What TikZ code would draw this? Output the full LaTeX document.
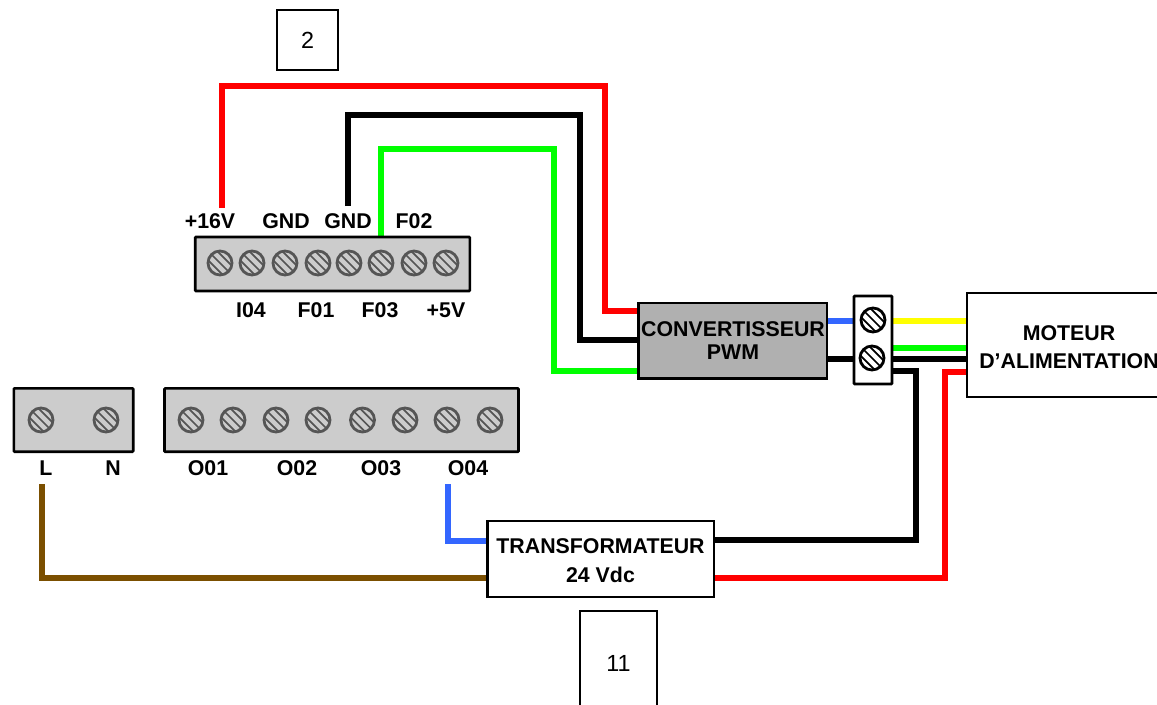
\documentclass[tikz,border=0pt]{standalone}
\usepackage{fontspec}
\setmainfont{Liberation Sans}
\usetikzlibrary{backgrounds}
\newcommand{\fs}{\fontsize{16pt}{19pt}\selectfont}
\tikzset{
  x=0.75pt,y=-0.75pt,
  box/.style={draw=black,line width=2pt,rectangle,inner sep=0pt,outer sep=0pt,line join=miter,
    font=\fs\bfseries,align=center},
  strip/.style={box,fill=stripgray,rounded corners=0.6pt},
  numbox/.style={draw=black,line width=1pt,rectangle,inner sep=0pt,font=\fontsize{17.5pt}{20pt}\selectfont},
  lab/.style={font=\fs\bfseries,inner sep=0pt},
  wire/.style={line width=4.2pt,line join=miter,line cap=butt},
  screw/.style={circle,draw=#1,fill=none,line width=2.1pt,minimum size=18pt,inner sep=0pt,
    path picture={
      \foreach \o in {-4.6,0,4.6}{
        \draw[#1,line width=1.3pt,shift={(path picture bounding box.center)}]
          (-15+\o,-15-\o)--(15+\o,15-\o);}
    }},
  gscrew/.style={screw=screwgray},
  kscrew/.style={screw=black}
}
\definecolor{stripgray}{HTML}{CCCCCC}
\definecolor{screwgray}{HTML}{555555}
\definecolor{convgray}{HTML}{B0B0B0}
\definecolor{wred}{HTML}{FF0000}
\definecolor{wgreen}{HTML}{00FF00}
\definecolor{wblue}{HTML}{3366FF}
\definecolor{wyellow}{HTML}{FFFF00}
\definecolor{wbrown}{HTML}{7B4F00}
\begin{document}
\begin{tikzpicture}
\useasboundingbox (0,0) rectangle (1157,704);
\coordinate (redfree) at (222,208);
\coordinate (blackfree) at (348,206);
\coordinate (brownfree) at (42,484);
\coordinate (bluefree) at (448,484);

% boxes
\node[numbox,minimum width=45.75pt,minimum height=45pt] (n2) at (307.5,40) {2};
\node[numbox,minimum width=57.75pt,minimum height=78pt] (n11) at (618.5,663) {11};
\node[strip,minimum width=206pt,minimum height=40.5pt] (ts1) at (332.5,264) {};
\node[strip,minimum width=89.5pt,minimum height=47.5pt] (ts2) at (73.5,420) {};
\node[strip,minimum width=265.5pt,minimum height=47.5pt] (ts3) at (341.5,420) {};
\node[box,fill=convgray,minimum width=141.5pt,minimum height=56.5pt] (conv) at (732.5,340.5) {};
\node[box,fill=white,minimum width=28.5pt,minimum height=66pt,rounded corners=0.6pt] (bornier) at (873,340) {};
\node[box,fill=white,minimum width=151.5pt,minimum height=78pt] (moteur) at (1068,345) {};
\node[box,fill=white,minimum width=170pt,minimum height=57pt] (trans) at (600.5,559) {};

% screws
\foreach \i/\x in {1/220,2/252,3/285,4/318,5/349,6/381,7/414,8/446}
  \node[gscrew] (a\i) at (\x,263) {};
\foreach \i/\x in {1/41,2/106}
  \node[gscrew] (b\i) at (\x,420) {};
\foreach \i/\x in {1/191,2/233,3/276,4/318,5/362.5,6/405,7/447,8/490}
  \node[gscrew] (c\i) at (\x,420) {};
\node[kscrew] (k1) at (873,320) {};
\node[kscrew] (k2) at (872,358) {};

% wires
\begin{scope}[on background layer]
\draw[wire,wred] (redfree) -- (222,86) -- (605,86) -- (605,311) -- (conv.west |- 0,311);
\draw[wire,black] (blackfree) -- (348,115) -- (580,115) -- (580,340) -- (conv.west |- 0,340);
\draw[wire,wgreen] (ts1.north -| a6) -- (381,149) -- (554,149) -- (554,371) -- (conv.west |- 0,371);
\draw[wire,wblue] (conv.east |- 0,321) -- (bornier.west |- 0,321);
\draw[wire,black] (conv.east |- 0,359) -- (bornier.west |- 0,359);
\draw[wire,wyellow] (bornier.east |- 0,321) -- (moteur.west |- 0,321);
\draw[wire,wgreen] (bornier.east |- 0,348) -- (moteur.west |- 0,348);
\draw[wire,black] (bornier.east |- 0,359) -- (moteur.west |- 0,359);
\draw[wire,black] (bornier.east |- 0,371) -- (916,371) -- (916,540) -- (trans.east |- 0,540);
\draw[wire,wred] (moteur.west |- 0,372) -- (945,372) -- (945,578) -- (trans.east |- 0,578);
\draw[wire,wbrown] (brownfree) -- (42,578) -- (trans.west |- 0,578);
\draw[wire,wblue] (bluefree) -- (448,541) -- (trans.west |- 0,541);
\end{scope}

% box texts
\node[lab,align=center,font=\fontsize{16pt}{17.25pt}\selectfont\bfseries] (convt) at (733,341) {CONVERTISSEUR\\PWM};
\node[lab,align=center,font=\fontsize{16pt}{21pt}\selectfont\bfseries] (mott) at (1069,347) {MOTEUR\\D’ALIMENTATION};
\node[lab,align=center,font=\fontsize{16pt}{21.7pt}\selectfont\bfseries] (trat) at (600.5,561) {TRANSFORMATEUR\\24 Vdc};

% terminal labels
\foreach \n/\x/\t in {l1/210/+16V,l2/286/GND,l3/348/GND,l4/414/F02}
  \node[lab] (\n) at (\x,221) {\t};
\foreach \n/\x/\t in {l5/251/I04,l6/316/F01,l7/380/F03,l8/446/+5V}
  \node[lab] (\n) at (\x,310) {\t};
\foreach \n/\x/\t in {l9/46/L,l10/113/N,l11/208/O01,l12/297/O02,l13/381/O03,l14/468/O04}
  \node[lab] (\n) at (\x,468) {\t};
\end{tikzpicture}
\end{document}
